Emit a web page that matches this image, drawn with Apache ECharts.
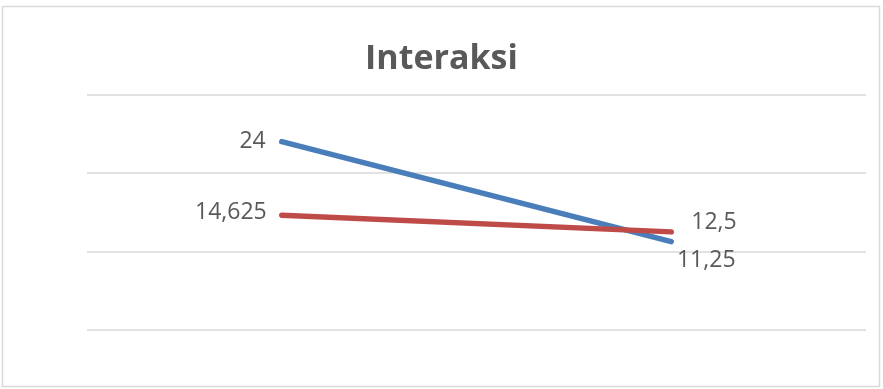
<!DOCTYPE html>
<html>
<head>
<meta charset="utf-8">
<script src="https://cdn.jsdelivr.net/npm/echarts@6/dist/echarts.min.js"></script>
<style>html,body{margin:0;padding:0;background:#fff;}#c{width:883px;height:389px;}</style>
</head>
<body>
<div id="c"></div>
<script>
var categories = ['1', '2'];
var blueValues = [24, 11.25];
var redValues = [14.625, 12.5];
var yTicks = [0, 10, 20, 30];

var fmt = function (p) { return String(p.value).replace('.', ','); };
var labelBase = { show: true, color: '#595959', fontSize: 23, fontFamily: 'Open Sans', formatter: fmt };

var chart = echarts.init(document.getElementById('c'), null, { renderer: 'canvas' });
chart.setOption({
  backgroundColor: '#fff',
  animation: false,
  title: {
    text: 'Interaksi', left: 'center', top: 37,
    textStyle: { color: '#595959', fontSize: 34, fontWeight: 'bold', fontFamily: 'Open Sans' }
  },
  graphic: [{
    type: 'rect', shape: { x: 2.5, y: 6.5, width: 877, height: 380 },
    style: { fill: 'none', stroke: '#d9d9d9', lineWidth: 1.5 }, silent: true
  }],
  grid: { left: 87, right: 17, top: 94.5, bottom: 59 },
  xAxis: {
    type: 'category', data: categories, boundaryGap: true,
    axisLine: { show: false }, axisTick: { show: false }, axisLabel: { show: false }
  },
  yAxis: {
    type: 'value', min: yTicks[0], max: yTicks[yTicks.length - 1], interval: yTicks[1] - yTicks[0],
    axisLabel: { show: false }, axisLine: { show: false }, axisTick: { show: false },
    splitLine: { lineStyle: { color: '#d9d9d9', width: 1.5 } }
  },
  series: [
    {
      name: 'Series1', type: 'line', symbol: 'circle', symbolSize: 0.01, showSymbol: true,
      itemStyle: { color: '#4a7ebb' },
      lineStyle: { color: '#4a7ebb', width: 5.5, cap: 'round' },
      data: [
        { value: blueValues[0], label: Object.assign({}, labelBase, { position: 'left', distance: 16 }) },
        { value: blueValues[1], label: Object.assign({}, labelBase, { position: 'bottom', distance: 5, offset: [35, 2] }) }
      ]
    },
    {
      name: 'Series2', type: 'line', symbol: 'circle', symbolSize: 0.01, showSymbol: true,
      itemStyle: { color: '#be4b48' },
      lineStyle: { color: '#be4b48', width: 5.5, cap: 'round' },
      data: [
        { value: redValues[0], label: Object.assign({}, labelBase, { position: 'left', distance: 15, offset: [0, -3] }) },
        { value: redValues[1], label: Object.assign({}, labelBase, { position: 'right', distance: 20, offset: [0, -9] }) }
      ]
    }
  ]
});
</script>
</body>
</html>
